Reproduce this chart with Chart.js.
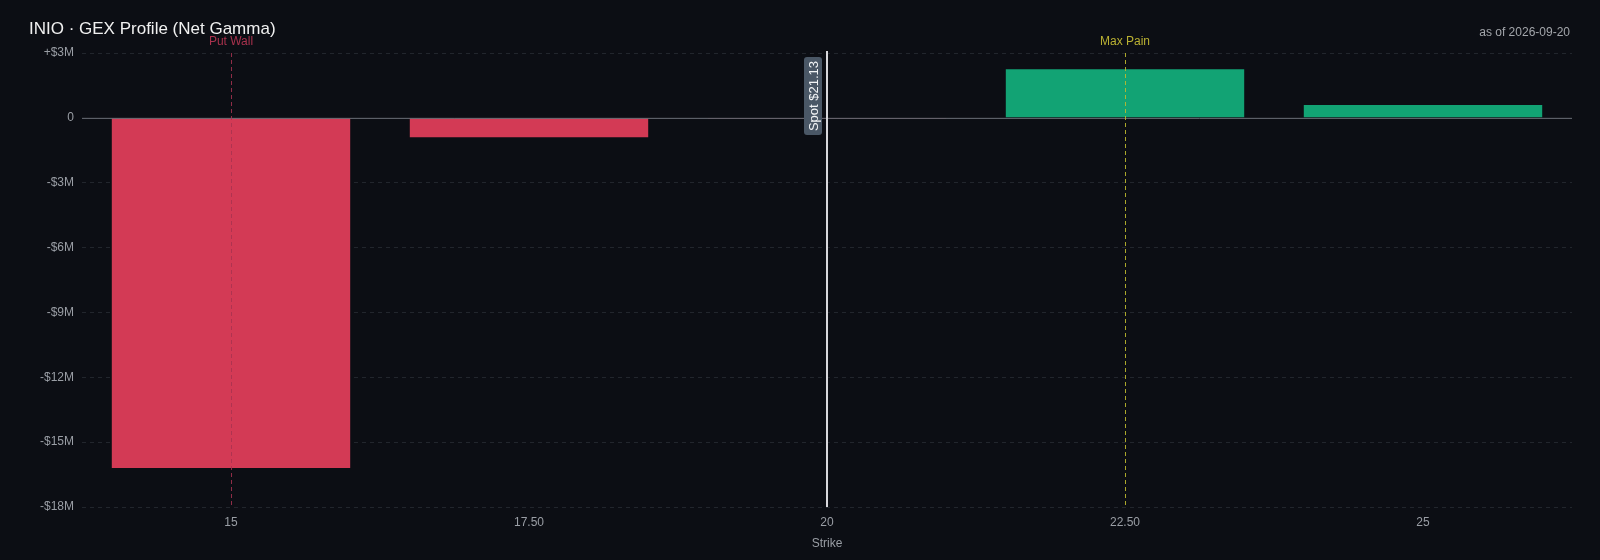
<!DOCTYPE html>
<html>
<head>
<meta charset="utf-8">
<script src="https://cdn.jsdelivr.net/npm/chart.js@4.4.1/dist/chart.umd.min.js"></script>
<style>
html,body{margin:0;padding:0;background:#0c0e14;}
#wrap{position:relative;width:1600px;height:560px;}
canvas{display:block;}
</style>
</head>
<body>
<div id="wrap"><canvas id="c" width="1600" height="560"></canvas></div>
<script>
// ---- data ----
const strikes = ['15', '17.50', '20', '22.50', '25'];
const netGammaM = [-16.2, -0.9, -0.03, 2.25, 0.6];   // $ millions
const yTicks = [3, 0, -3, -6, -9, -12, -15, -18];
const titleText = 'INIO · GEX Profile (Net Gamma)';
const asOfText = 'as of 2026-09-20';
const spotPrice = 21.13;
const spotStrike = '20';
const putWallStrike = '15';
const maxPainStrike = '22.50';

const FONT = 'Liberation Sans, Arial, sans-serif';
const RED = '#d33a55';
const GREEN = '#12a374';

function fmtTick(v){
  if (v === 0) return '0';
  return (v > 0 ? '+' : '-') + '$' + Math.abs(v) + 'M';
}

const overlay = {
  id: 'overlay',
  afterDatasetsDraw(chart){
    const {ctx, chartArea:a, scales:{x, y}} = chart;
    ctx.save();
    // zero line
    const y0 = y.getPixelForValue(0);
    ctx.strokeStyle = '#6c7078';
    ctx.lineWidth = 1;
    ctx.beginPath(); ctx.moveTo(a.left, y0 + 0.5); ctx.lineTo(a.right, y0 + 0.5); ctx.stroke();

    // put wall
    const xp = x.getPixelForValue(strikes.indexOf(putWallStrike));
    ctx.setLineDash([4, 3]);
    ctx.strokeStyle = 'rgba(168,50,80,0.85)';
    ctx.beginPath(); ctx.moveTo(xp + 0.5, a.top); ctx.lineTo(xp + 0.5, a.bottom); ctx.stroke();
    // max pain
    const xm = x.getPixelForValue(strikes.indexOf(maxPainStrike));
    ctx.strokeStyle = 'rgba(190,185,45,0.9)';
    ctx.beginPath(); ctx.moveTo(xm + 0.5, a.top); ctx.lineTo(xm + 0.5, a.bottom); ctx.stroke();
    ctx.setLineDash([]);

    ctx.font = '12px ' + FONT;
    ctx.textAlign = 'center';
    ctx.textBaseline = 'middle';
    ctx.fillStyle = '#a8324d';
    ctx.fillText('Put Wall', xp, a.top - 11);
    ctx.fillStyle = '#b9b032';
    ctx.fillText('Max Pain', xm, a.top - 11);

    // spot line
    const xs = x.getPixelForValue(strikes.indexOf(spotStrike));
    ctx.strokeStyle = '#d8d8dc';
    ctx.lineWidth = 2;
    ctx.beginPath(); ctx.moveTo(xs, a.top - 2); ctx.lineTo(xs, a.bottom); ctx.stroke();

    // spot label box (rotated)
    const label = 'Spot $' + spotPrice.toFixed(2);
    ctx.font = '13px ' + FONT;
    const tw = ctx.measureText(label).width;
    const bh = tw + 8, bw = 18;
    const bx = xs - 23, by = a.top + 4;
    ctx.fillStyle = '#4a5766';
    ctx.beginPath();
    if (ctx.roundRect) ctx.roundRect(bx, by, bw, bh, 3); else ctx.rect(bx, by, bw, bh);
    ctx.fill();
    ctx.translate(bx + bw / 2, by + bh / 2);
    ctx.rotate(-Math.PI / 2);
    ctx.fillStyle = '#f2f4f6';
    ctx.textAlign = 'center';
    ctx.textBaseline = 'middle';
    ctx.fillText(label, 0, 1);
    ctx.restore();

    // header texts
    ctx.save();
    ctx.fillStyle = '#f0f0f0';
    ctx.font = '17px ' + FONT;
    ctx.textAlign = 'left';
    ctx.textBaseline = 'alphabetic';
    ctx.fillText(titleText, 29, 34);
    ctx.fillStyle = '#a3a6ab';
    ctx.font = '12px ' + FONT;
    ctx.textAlign = 'right';
    ctx.fillText(asOfText, 1570, 36);
    ctx.restore();
  }
};

new Chart(document.getElementById('c'), {
  type: 'bar',
  data: {
    labels: strikes,
    datasets: [{
      data: netGammaM,
      backgroundColor: netGammaM.map(v => v < 0 ? RED : GREEN),
      borderWidth: 0,
      barPercentage: 1.0,
      categoryPercentage: 0.8
    }]
  },
  options: {
    responsive: false,
    animation: false,
    devicePixelRatio: 1,
    layout: { padding: { left: 0, right: 28, top: 53, bottom: 0 } },
    plugins: { legend: { display: false }, tooltip: { enabled: false }, title: { display: false } },
    scales: {
      x: {
        grid: { display: false, drawTicks: false },
        border: { display: false },
        ticks: { color: '#9a9ea5', font: { size: 12, family: FONT }, padding: 8 },
        title: { display: true, text: 'Strike', color: '#9a9ea5', font: { size: 12, family: FONT }, padding: { top: 4, bottom: 9 } },
        afterFit(s){ s.height = 53; }
      },
      y: {
        min: -18, max: 3,
        afterBuildTicks(s){ s.ticks = yTicks.map(v => ({ value: v })); },
        grid: {
          color: ctx => ctx.tick && ctx.tick.value === 0 ? 'rgba(0,0,0,0)' : '#22262d',
          drawTicks: false,
          lineWidth: 1
        },
        border: { display: false, dash: [4, 4] },
        ticks: { color: '#9a9ea5', font: { size: 12, family: FONT }, padding: 8, callback: v => fmtTick(v) },
        afterFit(s){ s.width = 82; }
      }
    }
  },
  plugins: [overlay]
});
</script>
</body>
</html>
